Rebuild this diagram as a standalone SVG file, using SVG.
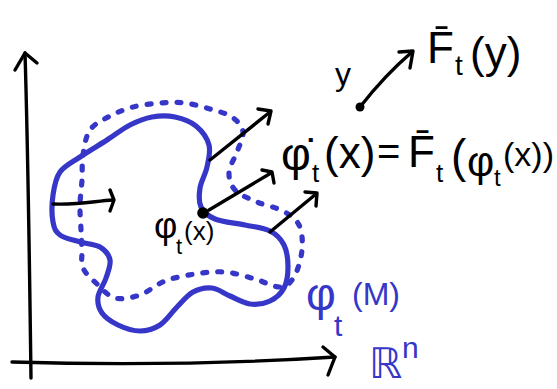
<svg xmlns="http://www.w3.org/2000/svg" width="557" height="389" viewBox="0 0 557 389">
<style>
.ink{fill:none;stroke:#000;stroke-width:3.4;stroke-linecap:round;stroke-linejoin:round}
.blue{fill:none;stroke:#3636c8;stroke-width:5.2;stroke-linecap:round;stroke-linejoin:round}
.dots{stroke-dasharray:4 11}
text{font-family:"Liberation Sans","DejaVu Sans",sans-serif}
.k{fill:#000}
.b{fill:#3636c8}
</style>
<rect width="557" height="389" fill="#fff"/>
<g id="axes">
<path class="ink" d="M31,378 C30,300 28,150 25,53"/>
<path class="ink" d="M15,70 L25,53 L37,63"/>
<path class="ink" d="M12,362 Q180,367 335,357"/>
<path class="ink" d="M323,347 L335,357 L328,375"/>
</g>
<g id="image-set">
<path id="solid-curve" class="blue" d="M53,222 C51.8,215.3 51.8,203.3 53,195 S55.5,178.3 60,172 S72.2,162.3 80,157 S98.7,145.3 107,140 S122.5,128.8 130,125 S144.5,118.3 152,117 S167.7,115.5 175,117 S190.3,121.3 196,126 S207.2,138.2 209,145 S208.5,159.8 207,167 S201,181.3 200,188 S198.5,201.8 201,207 S207.7,216 215,219 S235.8,223 245,225 S263.5,227.7 270,231 S281,239 284,245 S288,259.8 288,267 S287,282.3 284,288 S275.7,298.3 270,301 S256.7,304.8 250,304 S236.3,298.7 230,296 S218.2,288.7 212,288 S198.8,288.8 193,292 S182.5,301.5 177,307 S166.2,321 160,325 S147,331 140,331 S124.3,328 118,325 S105.3,317.7 102,313 S97.3,302.8 98,297 S104,284.2 106,278 S111,265.2 110,260 S105,250 100,247 S86.7,244 80,242 S64.5,238.3 60,235 S54.2,228.7 53,222 Z"/>
<path id="dotted-curve" class="blue dots" d="M81,230 C80.7,222.5 79.8,213.3 80,205 S81.5,188.3 82,180 S81.7,163.3 83,155 S85.5,136.5 90,130 S102.8,119.8 110,116 S124.7,109.2 133,107 S151.3,103.7 160,103 S176.7,102 185,103 S202.2,106.7 210,109 S226.5,113.2 232,117 S242.2,126.2 243,132 S239.3,145.3 237,152 S229.3,165.7 229,172 S230.3,185 235,190 S249,198.5 257,202 S276,207.2 283,211 S295.8,218.5 299,225 S302.8,241.3 302,250 S297.7,270.8 294,277 S286.5,286.7 280,287 S264.2,281.5 255,279 S235,272.8 225,272 S205,272.5 195,274 S174.2,277.5 165,281 S148.3,292.2 140,295 S122.2,299.8 115,298 S102.3,289 97,284 S85.5,273.7 83,268 S82.3,256.3 82,250 S81.3,237.5 81,230 Z"/>
</g>
<g id="connectors">
<path class="ink" d="M53,204 C80,205 95,201 113,200"/>
<path class="ink" d="M110,190 L114,200 L110,211"/>
<path class="ink" d="M210,160 L270,112"/>
<path class="ink" d="M258,109 L271,111 L268,124"/>
<path class="ink" d="M209,210 L271,173"/>
<path class="ink" d="M262,170 L272,172 L274,183"/>
<path class="ink" d="M270,232 L316,194"/>
<path class="ink" d="M305,192 L317,193 L316,206"/>
<path class="ink" d="M360,107 Q385,75 412,52"/>
<path class="ink" d="M399,52 L413,51 L410,68"/>
<circle cx="360" cy="107" r="4.5" fill="#000"/>
<circle cx="203" cy="213" r="5.8" fill="#000"/>
</g>
<g id="labels">
<text class="k" font-size="32"><tspan x="335" y="85">y</tspan></text>
<text class="k"><tspan x="427" y="63" font-size="44">F̄</tspan><tspan x="455" y="75" font-size="28">t</tspan><tspan x="470" y="68" font-size="44">(y)</tspan></text>
<text class="k"><tspan x="281" y="170" font-size="46">φ̇</tspan><tspan x="312" y="182" font-size="26">t</tspan><tspan x="324" y="168" font-size="44">(x)</tspan><tspan x="377" y="165" font-size="40">=</tspan><tspan x="408" y="167" font-size="44">F̄</tspan><tspan x="436" y="182" font-size="26">t</tspan><tspan x="451" y="172" font-size="46">(</tspan><tspan x="467" y="176" font-size="42">φ</tspan><tspan x="494" y="186" font-size="24">t</tspan><tspan x="503" y="166" font-size="34">(x))</tspan></text>
<text class="k"><tspan x="154" y="238" font-size="36">φ</tspan><tspan x="176" y="254" font-size="22">t</tspan><tspan x="184" y="240" font-size="26">(x)</tspan></text>
<text class="b"><tspan x="306" y="310" font-size="46">φ</tspan><tspan x="334" y="336" font-size="30">t</tspan><tspan x="352" y="305" font-size="32">(M)</tspan></text>
<text class="b"><tspan x="369" y="378" font-size="42" font-family="'DejaVu Sans',sans-serif">ℝ</tspan><tspan x="402" y="358" font-size="30">n</tspan></text>
</g>
</svg>
